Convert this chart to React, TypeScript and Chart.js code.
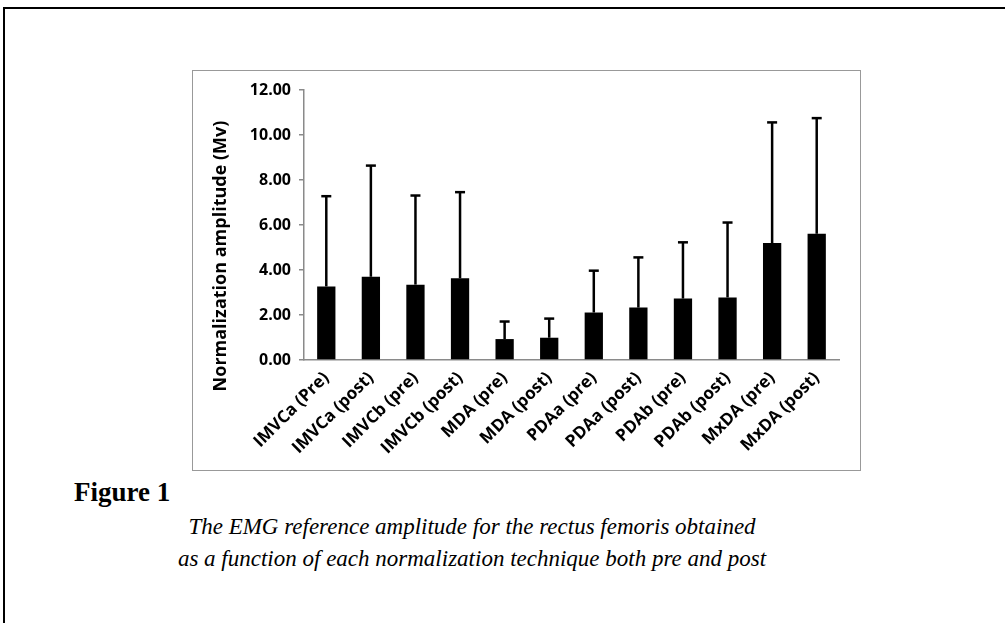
import React, { useEffect, useRef } from "react";
import { Chart, registerables } from "chart.js";

Chart.register(...registerables);

const categories = [
  "IMVCa (Pre)",
  "IMVCa (post)",
  "IMVCb (pre)",
  "IMVCb (post)",
  "MDA (pre)",
  "MDA (post)",
  "PDAa (pre)",
  "PDAa (post)",
  "PDAb (pre)",
  "PDAb (post)",
  "MxDA (pre)",
  "MxDA (post)",
];
const means = [3.27, 3.7, 3.35, 3.63, 0.93, 0.99, 2.11, 2.33, 2.73, 2.78, 5.2, 5.61];
const sdUpper = [4.01, 4.94, 3.96, 3.83, 0.78, 0.85, 1.86, 2.23, 2.5, 3.33, 5.36, 5.14];
const yMin = 0;
const yMax = 12;
const yStep = 2;
const yTitle = "Normalization amplitude (Mv)";
const figureLabel = "Figure 1";
const captionLines = [
  "The EMG reference amplitude for the rectus femoris obtained",
  "as a function of each normalization technique both pre and post",
];

const TICK_FONT = { family: "'Open Sans', sans-serif", size: 16, weight: "bold" as const };

export default function App() {
  const ref = useRef<HTMLCanvasElement | null>(null);

  useEffect(() => {
    if (!ref.current) return;

    const errorBars = {
      id: "errorBars",
      afterDatasetsDraw(chart: any) {
        const meta = chart.getDatasetMeta(0);
        const ys = chart.scales.y;
        const ctx = chart.ctx;
        ctx.save();
        ctx.strokeStyle = "#000";
        ctx.lineWidth = 2.5;
        ctx.lineCap = "butt";
        meta.data.forEach((bar: any, i: number) => {
          const x = bar.x;
          const yb = ys.getPixelForValue(means[i]);
          const yt = ys.getPixelForValue(means[i] + sdUpper[i]);
          ctx.beginPath();
          ctx.moveTo(x, yb);
          ctx.lineTo(x, yt);
          ctx.stroke();
          ctx.beginPath();
          ctx.moveTo(x - 5, yt);
          ctx.lineTo(x + 5, yt);
          ctx.stroke();
        });
        ctx.restore();
      },
    };

    const yTitlePlugin = {
      id: "yTitlePlugin",
      afterDraw(chart: any) {
        const ctx = chart.ctx;
        ctx.save();
        ctx.translate(28, 185);
        ctx.rotate(-Math.PI / 2);
        ctx.font = "bold 18px 'Open Sans', sans-serif";
        ctx.fillStyle = "#000";
        ctx.textAlign = "center";
        ctx.textBaseline = "middle";
        ctx.fillText(yTitle, 0, 0);
        ctx.restore();
      },
    };

    const chart = new Chart(ref.current, {
      type: "bar",
      data: {
        labels: categories,
        datasets: [
          {
            data: means,
            backgroundColor: "#000",
            borderWidth: 0,
            barPercentage: 0.41,
            categoryPercentage: 1,
          },
        ],
      },
      options: {
        animation: false,
        responsive: false,
        devicePixelRatio: 1,
        events: [],
        layout: { padding: { left: 0, top: 19, right: 21, bottom: 0 } },
        plugins: {
          legend: { display: false },
          tooltip: { enabled: false },
          title: { display: false },
        },
        scales: {
          x: {
            grid: { display: false, drawTicks: false },
            border: { display: true, color: "#8a8a8a", width: 1.5 },
            ticks: {
              color: "#000",
              font: { ...TICK_FONT, size: 17 },
              maxRotation: 45,
              minRotation: 45,
              autoSkip: false,
              padding: 8,
            },
            afterFit(scale: any) {
              scale.height = 110;
            },
          },
          y: {
            min: yMin,
            max: yMax,
            grid: {
              display: true,
              drawOnChartArea: false,
              drawTicks: true,
              tickLength: 5,
              color: "#8a8a8a",
              lineWidth: 1.5,
            },
            border: { display: true, color: "#8a8a8a", width: 1.5 },
            ticks: {
              stepSize: yStep,
              color: "#000",
              font: TICK_FONT,
              padding: 8,
              callback: (v: any) => Number(v).toFixed(2),
            },
            afterFit(scale: any) {
              scale.width = 111;
            },
          },
        },
      },
      plugins: [errorBars, yTitlePlugin],
    });

    return () => chart.destroy();
  }, []);

  return (
    <div
      style={{
        position: "absolute",
        left: 0,
        top: 0,
        width: 1005,
        height: 623,
        overflow: "hidden",
        background: "#fff",
      }}
    >
      <div
        style={{
          position: "absolute",
          left: 3,
          top: 7,
          width: 1100,
          height: 700,
          border: "2px solid #000",
        }}
      />
      <div
        style={{
          position: "absolute",
          left: 192,
          top: 70,
          width: 667,
          height: 399,
          border: "1px solid #999",
          background: "#fff",
        }}
      >
        <canvas
          ref={ref}
          width={667}
          height={399}
          style={{ display: "block", width: 667, height: 399 }}
        />
      </div>
      <div
        style={{
          position: "absolute",
          left: 74,
          top: 479,
          fontFamily: "'Liberation Serif', serif",
          fontWeight: "bold",
          fontSize: 27,
          lineHeight: "26px",
          whiteSpace: "nowrap",
        }}
      >
        {figureLabel}
      </div>
      {captionLines.map((line, i) => (
        <div
          key={i}
          style={{
            position: "absolute",
            left: 472 - 502.5,
            width: 1005,
            top: 515 + i * 32,
            textAlign: "center",
            fontFamily: "'Liberation Serif', serif",
            fontStyle: "italic",
            fontSize: 23,
            lineHeight: "23px",
            whiteSpace: "nowrap",
          }}
        >
          {line}
        </div>
      ))}
    </div>
  );
}
